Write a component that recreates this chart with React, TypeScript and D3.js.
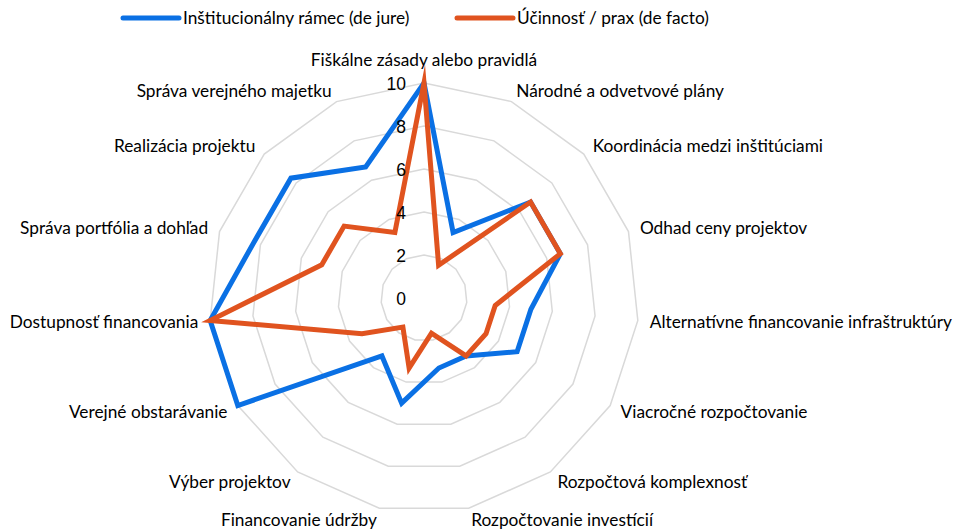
import React, { useEffect, useRef } from "react";
import * as d3 from "d3";

const categories = [
  "Fiškálne zásady alebo pravidlá",
  "Národné a odvetvové plány",
  "Koordinácia medzi inštitúciami",
  "Odhad ceny projektov",
  "Alternatívne financovanie infraštruktúry",
  "Viacročné rozpočtovanie",
  "Rozpočtová komplexnosť",
  "Rozpočtovanie investícií",
  "Financovanie údržby",
  "Výber projektov",
  "Verejné obstarávanie",
  "Dostupnosť financovania",
  "Správa portfólia a dohľad",
  "Realizácia projektu",
  "Správa verejného majetku",
];

const deJure = [10, 3.33, 6.67, 6.67, 5, 5, 3.33, 3.33, 5, 3.33, 10, 10, 8.33, 8.33, 6.67];
const deFacto = [10, 1.67, 6.67, 6.67, 3.33, 3.33, 3.33, 1.67, 3.33, 1.67, 3.33, 10, 5, 5, 3.33];

const ticks = [0, 2, 4, 6, 8, 10];

const seriesNames = ["Inštitucionálny rámec (de jure)", "Účinnosť / prax (de facto)"];
const colors = ["#0a70e4", "#e0531f"];

const App = () => {
  const ref = useRef<SVGSVGElement>(null);

  useEffect(() => {
    const svg = d3.select(ref.current);
    svg.selectAll("*").remove();

    const cx = 424,
      cy = 298,
      R = 215;
    const n = categories.length;
    const r = d3.scaleLinear().domain([0, 10]).range([0, R]);
    const angle = (i: number) => (i * 2 * Math.PI) / n;
    const labelFont = "Lato, 'Open Sans', sans-serif";

    const lineRadial = d3
      .lineRadial<number>()
      .angle((d, i) => angle(i))
      .radius((d) => r(d))
      .curve(d3.curveLinearClosed);

    const g = svg.append("g").attr("transform", `translate(${cx},${cy})`);

    // grid rings
    g.selectAll(".ring")
      .data(ticks.filter((t) => t > 0))
      .enter()
      .append("path")
      .attr("d", (t) => lineRadial(d3.range(n).map(() => t)))
      .attr("fill", "none")
      .attr("stroke", "#d9d9d9")
      .attr("stroke-width", 1.5);

    // series
    [deJure, deFacto].forEach((vals, k) => {
      g.append("path")
        .attr("d", lineRadial(vals))
        .attr("fill", "none")
        .attr("stroke", colors[k])
        .attr("stroke-width", 5)
        .attr("stroke-linejoin", "miter")
        .attr("stroke-miterlimit", 10);
    });

    // tick labels
    g.selectAll(".tick")
      .data(ticks)
      .enter()
      .append("text")
      .attr("x", -18)
      .attr("y", (t) => -r(t))
      .attr("dy", "0.38em")
      .attr("text-anchor", "end")
      .attr("font-family", "'Liberation Sans Narrow', 'Liberation Sans', Arial, sans-serif")
      .attr("font-size", 17.5)
      .attr("fill", "#000")
      .text((t) => t);

    // category labels
    const LR = R + 12;
    g.selectAll(".cat")
      .data(categories)
      .enter()
      .append("text")
      .attr("x", (d, i) => LR * Math.sin(angle(i)))
      .attr("y", (d, i) => -LR * Math.cos(angle(i)) + (i === 0 ? -11 : 0))
      .attr("dy", "0.35em")
      .attr("text-anchor", (d, i) => {
        const s = Math.sin(angle(i));
        return Math.abs(s) < 0.01 ? "middle" : s > 0 ? "start" : "end";
      })
      .attr("font-family", labelFont)
      .attr("font-size", 17.3)
      .attr("fill", "#000")
      .text((d) => d);

    // legend
    const legend = svg.append("g");
    const lx = [123, 457];
    seriesNames.forEach((name, k) => {
      legend
        .append("line")
        .attr("x1", lx[k])
        .attr("x2", lx[k] + 56)
        .attr("y1", 18)
        .attr("y2", 18)
        .attr("stroke", colors[k])
        .attr("stroke-width", 5)
        .attr("stroke-linecap", "round");
      legend
        .append("text")
        .attr("x", lx[k] + 60)
        .attr("y", 18)
        .attr("dy", "0.35em")
        .attr("font-family", labelFont)
        .attr("font-size", 17.3)
        .attr("fill", "#000")
        .text(name);
    });
  }, []);

  return (
    <svg
      ref={ref}
      width={955}
      height={530}
      style={{ position: "absolute", left: 0, top: 0, background: "#fff" }}
    />
  );
};

export default App;
